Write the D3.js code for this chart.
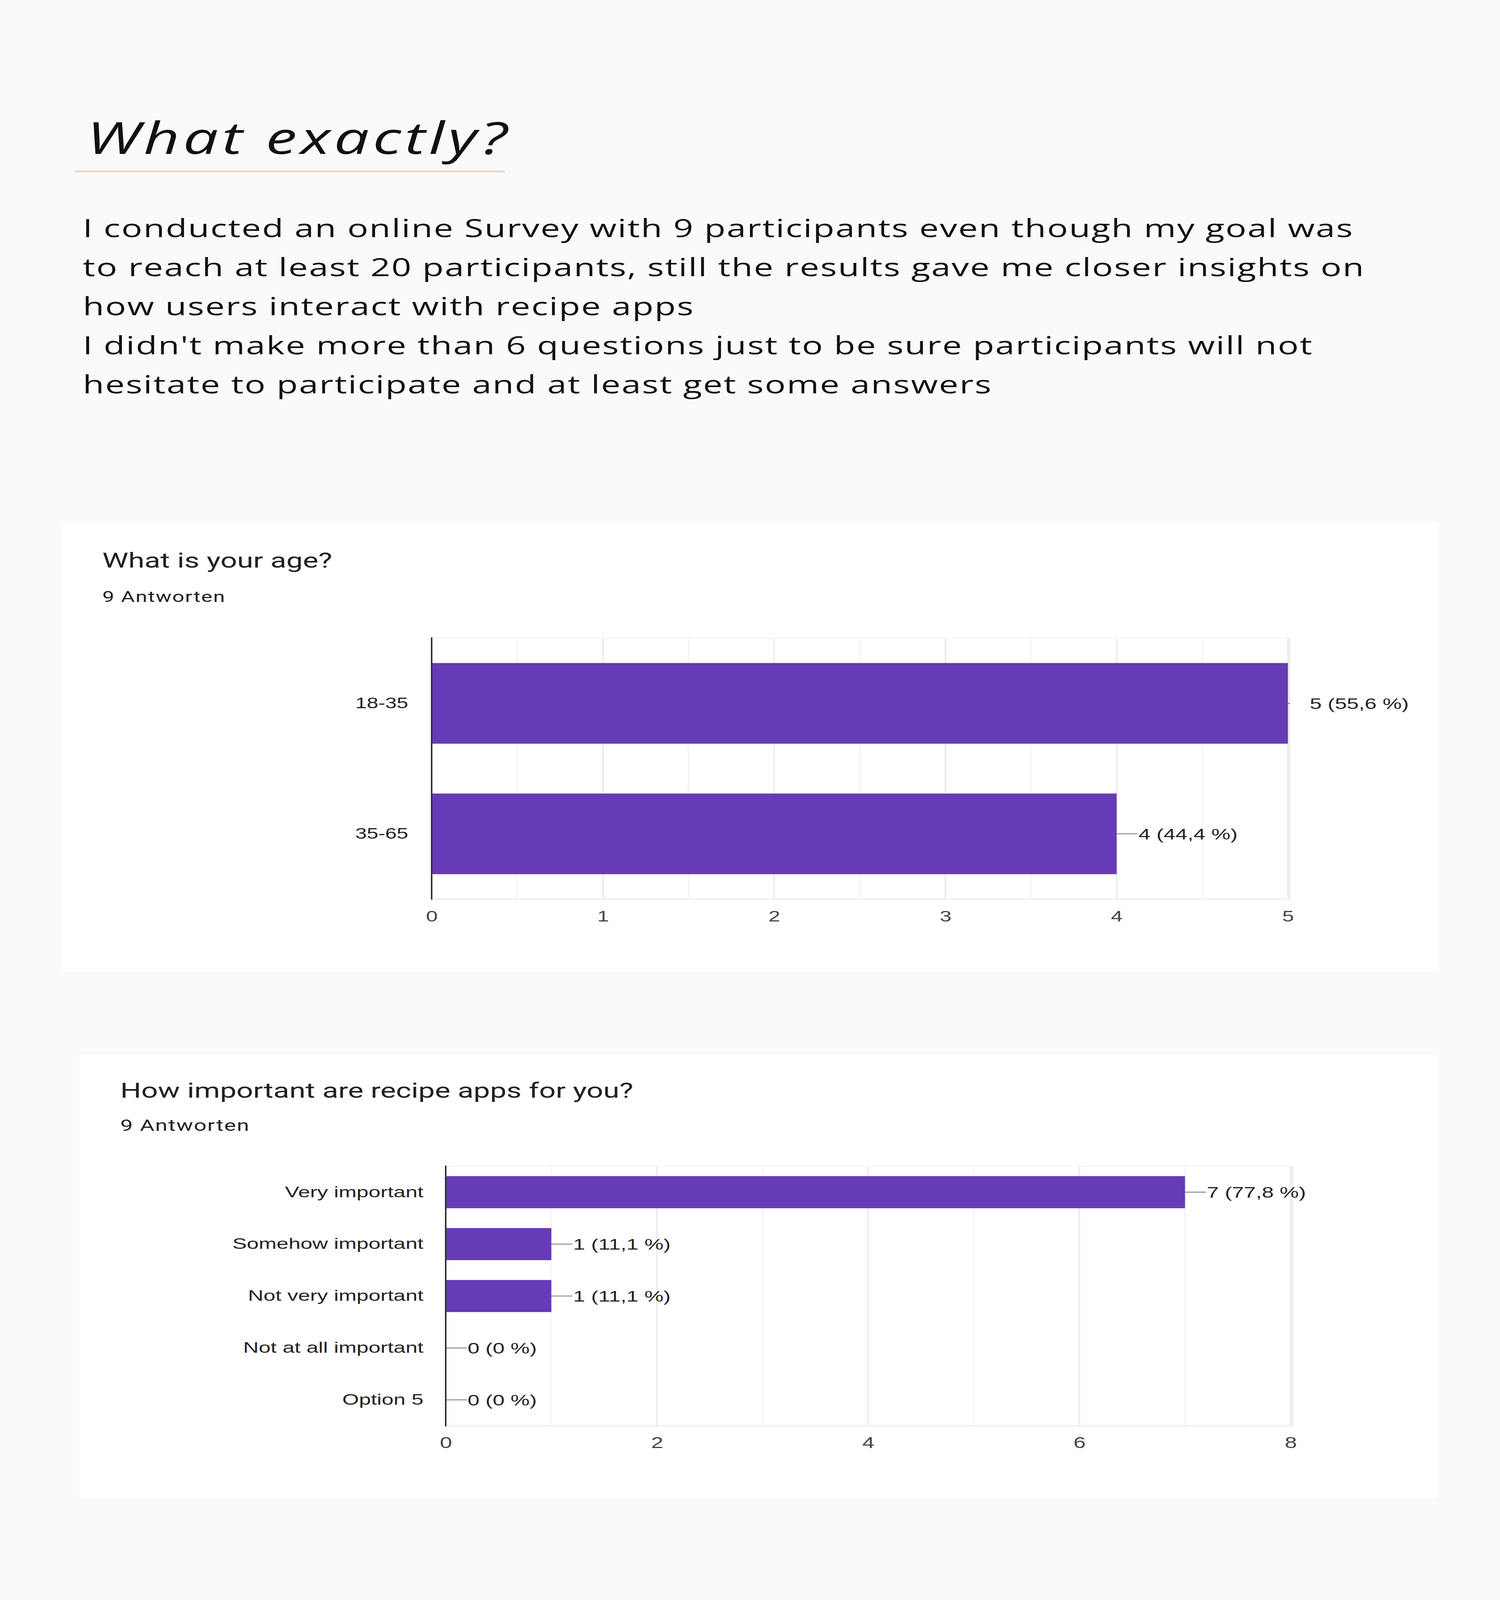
<!DOCTYPE html>
<html>
<head>
<meta charset="utf-8">
<script src="https://cdn.jsdelivr.net/npm/d3@7"></script>
<style>
  html, body { margin: 0; padding: 0; background: #fafafa; overflow: hidden; }
</style>
</head>
<body>
<div id="root"></div>
<script>
// Page text
const heading = 'What exactly?';
const paragraph = [
  'I conducted an online Survey with 9 participants even though my goal was',
  'to reach at least 20 participants, still the results gave me closer insights on',
  'how users interact with recipe apps',
  "I didn't make more than 6 questions just to be sure participants will not",
  'hesitate to participate and at least get some answers',
];

// Chart 1 data
const ageTitle = 'What is your age?';
const ageAnswers = '9 Antworten';
const ageCategories = ['18-35', '35-65'];
const ageValues = [5, 4];
const agePercents = ['55,6 %', '44,4 %'];
const ageTicks = [0, 1, 2, 3, 4, 5];

// Chart 2 data
const appTitle = 'How important are recipe apps for you?';
const appAnswers = '9 Antworten';
const appCategories = [
  'Very important',
  'Somehow important',
  'Not very important',
  'Not at all important',
  'Option 5',
];
const appValues = [7, 1, 1, 0, 0];
const appPercents = ['77,8 %', '11,1 %', '11,1 %', '0 %', '0 %'];
const appTicks = [0, 2, 4, 6, 8];

const width = 3840;
const height = 5732;

// the window may be shorter than the page, so the page is fitted into it
const svg = d3
  .select('#root')
  .append('svg')
  .attr('viewBox', `0 0 ${width} ${height}`)
  .attr('preserveAspectRatio', 'none')
  .attr('width', window.innerWidth || width)
  .attr('height', Math.min(window.innerHeight || height, height))
  .style('display', 'block');

svg.append('rect').attr('width', width).attr('height', height).attr('fill', '#fafafa');

// Heading + intro //////////////////////////////////////////////////////
svg
  .append('text')
  .attr('x', 222)
  .attr('y', 552)
  .attr('font-family', 'Open Sans')
  .attr('font-style', 'italic')
  .attr('font-size', 160)
  .attr('letter-spacing', 9)
  .attr('fill', '#111')
  .text(heading);

svg
  .append('rect')
  .attr('x', 191)
  .attr('y', 611)
  .attr('width', 1101)
  .attr('height', 6)
  .attr('fill', '#ecd2bf');

svg
  .append('g')
  .selectAll('text')
  .data(paragraph)
  .enter()
  .append('text')
  .attr('x', 212)
  .attr('y', (d, i) => 849 + i * 140)
  .attr('font-family', 'Open Sans')
  .attr('font-size', 89)
  .attr('letter-spacing', 2.7)
  .attr('fill', '#111')
  .text((d) => d);

////////////////////////////////////////////////////////////////////////

// Charts //////////////////////////////////////////////////////////////
function drawCard(opts) {
  const card = svg.append('g');

  card
    .append('rect')
    .attr('x', opts.card[0])
    .attr('y', opts.card[1])
    .attr('width', opts.card[2])
    .attr('height', opts.card[3])
    .attr('fill', '#ffffff');

  card
    .append('text')
    .attr('x', opts.textX)
    .attr('y', opts.titleY)
    .attr('font-family', 'Roboto')
    .attr('font-size', opts.titleSize)
    .attr('fill', '#202124')
    .text(opts.title);

  card
    .append('text')
    .attr('x', opts.textX)
    .attr('y', opts.answersY)
    .attr('font-family', 'Roboto')
    .attr('font-size', opts.answersSize)
    .attr('letter-spacing', 2)
    .attr('fill', '#202124')
    .text(opts.answers);

  const { left, right, top, bottom } = opts.plot;

  let xScale = d3.scaleLinear().domain(opts.domain).range([left, right]);
  let yScale = d3
    .scaleBand()
    .domain(opts.categories)
    .range([top, bottom])
    .paddingInner(0.382)
    .paddingOuter(0.191);

  // gridlines (minor lighter than major)
  let grid = card.append('g');
  grid
    .selectAll('line.minor')
    .data(opts.minor)
    .enter()
    .append('line')
    .attr('class', 'minor')
    .attr('x1', (d) => xScale(d))
    .attr('x2', (d) => xScale(d))
    .attr('y1', top)
    .attr('y2', bottom)
    .attr('stroke', '#f4f4f4')
    .attr('stroke-width', 4);

  grid
    .selectAll('line.major')
    .data(opts.ticks.slice(1))
    .enter()
    .append('line')
    .attr('class', 'major')
    .attr('x1', (d) => xScale(d))
    .attr('x2', (d) => xScale(d))
    .attr('y1', top)
    .attr('y2', bottom)
    .attr('stroke', '#ebebeb')
    .attr('stroke-width', 4);

  // plot frame (top / bottom / right)
  grid
    .append('line')
    .attr('x1', left)
    .attr('x2', right + 3)
    .attr('y1', top)
    .attr('y2', top)
    .attr('stroke', '#f2f2f2')
    .attr('stroke-width', 3);
  grid
    .append('line')
    .attr('x1', left)
    .attr('x2', right + 3)
    .attr('y1', bottom)
    .attr('y2', bottom)
    .attr('stroke', '#ebebeb')
    .attr('stroke-width', 4);
  grid
    .append('line')
    .attr('x1', right + 3)
    .attr('x2', right + 3)
    .attr('y1', top)
    .attr('y2', bottom)
    .attr('stroke', '#ececec')
    .attr('stroke-width', 6);

  // bars
  card
    .append('g')
    .selectAll('rect')
    .data(opts.values)
    .enter()
    .append('rect')
    .attr('x', xScale(0))
    .attr('y', (d, i) => yScale(opts.categories[i]))
    .attr('width', (d) => xScale(d) - xScale(0))
    .attr('height', yScale.bandwidth())
    .attr('fill', '#673ab7');

  // annotation stems + labels
  const stem = 54;
  let labels = card.append('g');
  labels
    .selectAll('line')
    .data(opts.values)
    .enter()
    .append('line')
    .attr('x1', (d) => xScale(d))
    .attr('x2', (d) => Math.min(xScale(d) + stem, right + 6))
    .attr('y1', (d, i) => yScale(opts.categories[i]) + yScale.bandwidth() / 2)
    .attr('y2', (d, i) => yScale(opts.categories[i]) + yScale.bandwidth() / 2)
    .attr('stroke', '#999')
    .attr('stroke-width', 4);

  labels
    .selectAll('text')
    .data(opts.values)
    .enter()
    .append('text')
    .attr('x', (d) => xScale(d) + stem + 2)
    .attr('y', (d, i) => yScale(opts.categories[i]) + yScale.bandwidth() / 2)
    .attr('dy', '0.36em')
    .attr('font-family', 'Liberation Sans, Arial, sans-serif')
    .attr('font-size', opts.valueSize)
    .attr('fill', '#222')
    .text((d, i) => `${d} (${opts.percents[i]})`);

  // y axis (categories)
  let yAxisGroup = card.append('g').attr('transform', `translate(${left}, 0)`);
  yAxisGroup.call(d3.axisLeft(yScale).tickSize(0).tickPadding(opts.labelGap));
  yAxisGroup.select('.domain').remove();
  yAxisGroup
    .selectAll('text')
    .attr('font-family', 'Liberation Sans, Arial, sans-serif')
    .attr('font-size', opts.labelSize)
    .attr('fill', '#222');
  yAxisGroup
    .append('line')
    .attr('x1', 0)
    .attr('x2', 0)
    .attr('y1', top - 2)
    .attr('y2', bottom + 2)
    .attr('stroke', '#333')
    .attr('stroke-width', 4);

  // x axis (values)
  let xAxisGroup = card.append('g').attr('transform', `translate(0, ${bottom})`);
  xAxisGroup.call(
    d3
      .axisBottom(xScale)
      .tickValues(opts.ticks)
      .tickFormat(d3.format('d'))
      .tickSize(0)
      .tickPadding(opts.tickGap),
  );
  xAxisGroup.select('.domain').remove();
  xAxisGroup
    .selectAll('text')
    .attr('font-family', 'Liberation Sans, Arial, sans-serif')
    .attr('font-size', opts.tickSize)
    .attr('fill', '#444');
}

drawCard({
  card: [160, 1871, 3520, 1610],
  textX: 262,
  titleY: 2034,
  titleSize: 75,
  answersY: 2157,
  answersSize: 54,
  title: ageTitle,
  answers: ageAnswers,
  plot: { left: 1105, right: 3297, top: 2286, bottom: 3221 },
  domain: [0, 5],
  categories: ageCategories,
  values: ageValues,
  percents: agePercents,
  ticks: ageTicks,
  minor: [0.5, 1.5, 2.5, 3.5, 4.5],
  labelSize: 53,
  valueSize: 55,
  tickSize: 54,
  labelGap: 60,
  tickGap: 42,
});

drawCard({
  card: [204, 3780, 3476, 1585],
  textX: 308,
  titleY: 3933,
  titleSize: 75,
  answersY: 4052,
  answersSize: 57,
  title: appTitle,
  answers: appAnswers,
  plot: { left: 1141, right: 3304, top: 4178, bottom: 5108 },
  domain: [0, 8],
  categories: appCategories,
  values: appValues,
  percents: appPercents,
  ticks: appTicks,
  minor: [1, 3, 5, 7],
  labelSize: 55,
  valueSize: 55,
  tickSize: 56,
  labelGap: 57,
  tickGap: 40,
});
</script>
</body>
</html>
